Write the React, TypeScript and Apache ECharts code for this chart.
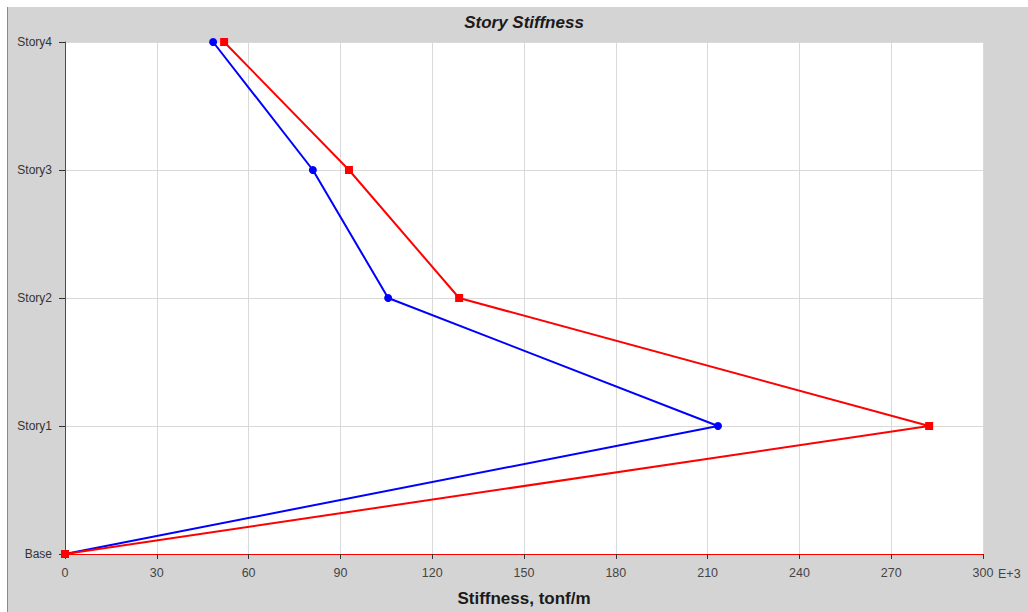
import React, { useEffect, useRef } from "react";
import * as echarts from "echarts";

const stories = ["Base", "Story1", "Story2", "Story3", "Story4"];
const stiffnessX = [0, 213.4, 105.6, 81.0, 48.4];
const stiffnessY = [0, 282.4, 128.8, 92.8, 52.0];
const xTicks = [0, 30, 60, 90, 120, 150, 180, 210, 240, 270, 300];

export default function App() {
  const ref = useRef<HTMLDivElement>(null);
  useEffect(() => {
    document.body.style.margin = "0";
    const chart = echarts.init(ref.current!, undefined, { renderer: "svg" });
    const font = "Liberation Sans, Arial, sans-serif";
    chart.setOption({
      animation: false,
      backgroundColor: "#ffffff",
      graphic: [
        {
          type: "rect",
          z: -10,
          silent: true,
          shape: { x: 7, y: 7, width: 1021, height: 605 },
          style: { fill: "#d4d4d4" },
        },
        {
          type: "line",
          z: -9,
          silent: true,
          shape: { x1: 7.5, y1: 7, x2: 7.5, y2: 612 },
          style: { stroke: "#8a8a8a", lineWidth: 1 },
        },
        {
          type: "text",
          x: 524,
          y: 22,
          style: {
            text: "Story Stiffness",
            font: "italic bold 17px " + font,
            fill: "#1a1a1a",
            align: "center",
            verticalAlign: "middle",
          },
        },
        {
          type: "text",
          x: 998,
          y: 574,
          style: {
            text: "E+3",
            font: "12.5px " + font,
            fill: "#444",
            align: "left",
            verticalAlign: "middle",
          },
        },
      ],
      grid: {
        left: 65,
        right: 45,
        top: 42,
        bottom: 57,
        show: true,
        backgroundColor: "#ffffff",
        borderWidth: 0,
      },
      xAxis: {
        type: "value",
        min: xTicks[0],
        max: xTicks[xTicks.length - 1],
        interval: 30,
        name: "Stiffness, tonf/m",
        nameLocation: "middle",
        nameGap: 36,
        nameTextStyle: { fontFamily: font, fontWeight: "bold", fontSize: 17, color: "#1a1a1a" },
        axisLine: { show: true, lineStyle: { color: "#ff0000", width: 1 } },
        axisTick: { show: true, length: 5, lineStyle: { color: "#333" } },
        axisLabel: { fontFamily: font, fontSize: 12.5, color: "#444", margin: 12 },
        splitLine: { show: true, lineStyle: { color: "#d9d9d9", width: 1 } },
      },
      yAxis: {
        type: "category",
        data: stories,
        boundaryGap: false,
        axisLine: { show: true, lineStyle: { color: "#ff0000", width: 1 } },
        axisTick: { show: true, length: 6, inside: false, lineStyle: { color: "#333" } },
        axisLabel: { fontFamily: font, fontSize: 12, color: "#333", margin: 13 },
        splitLine: { show: true, lineStyle: { color: "#d9d9d9", width: 1 } },
      },
      series: [
        {
          type: "line",
          data: stories.map((s, i) => [stiffnessX[i], s]),
          symbol: "circle",
          symbolSize: 8,
          lineStyle: { color: "#0000ff", width: 2 },
          itemStyle: { color: "#0000ff" },
          z: 3,
        },
        {
          type: "line",
          data: stories.map((s, i) => [stiffnessY[i], s]),
          symbol: "rect",
          symbolSize: 8,
          lineStyle: { color: "#ff0000", width: 2 },
          itemStyle: { color: "#ff0000" },
          z: 4,
        },
      ],
    });
    return () => chart.dispose();
  }, []);
  return <div ref={ref} style={{ width: 1028, height: 612 }} />;
}
